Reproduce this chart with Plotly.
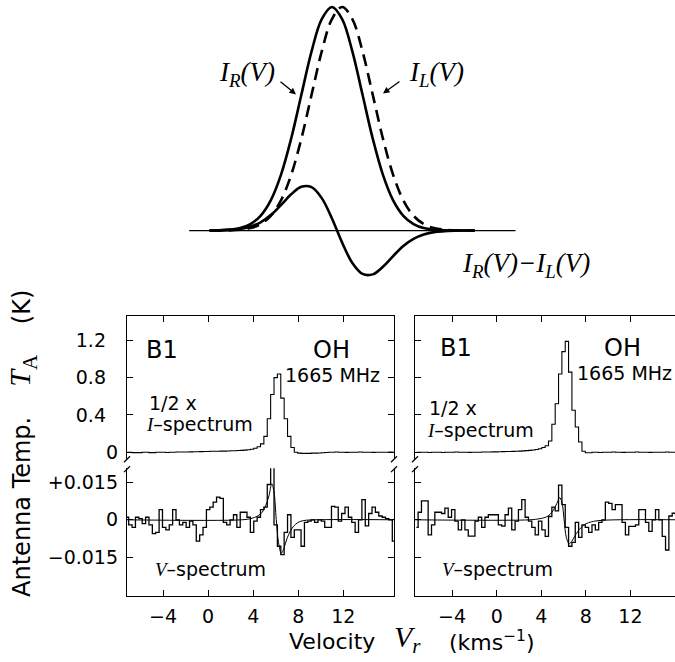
import plotly.graph_objects as go

W, H = 675, 662


def px(x):
    return x / W


def py(y):
    return 1 - y / H


# ---------------- schematic (top) ----------------
schem_k = [-12, -11, -10, -9, -8, -7, -6, -5, -4, -3, -2, -1, 0, 1, 2, 3, 4, 5, 6, 7,
           8, 9, 10, 11, 12, 13, 14]
schem_IR = [0.000, 0.001, 0.004, 0.011, 0.029, 0.066, 0.135, 0.249, 0.411, 0.607, 0.801,
            0.946, 1.000, 0.946, 0.801, 0.607, 0.411, 0.249, 0.135, 0.066, 0.029, 0.011,
            0.004, 0.001, 0.000, 0.000, 0.000]
schem_IL = [0.000, 0.000, 0.001, 0.004, 0.011, 0.029, 0.066, 0.135, 0.249, 0.411, 0.607,
            0.801, 0.946, 1.000, 0.946, 0.801, 0.607, 0.411, 0.249, 0.135, 0.066, 0.029,
            0.011, 0.004, 0.001, 0.000, 0.000]
schem_diff = [0.000, 0.001, 0.003, 0.007, 0.018, 0.037, 0.069, 0.114, 0.162, 0.196, 0.194,
              0.145, 0.054, -0.054, -0.145, -0.194, -0.196, -0.162, -0.114, -0.069, -0.037,
              -0.018, -0.007, -0.003, -0.001, 0.000, 0.000]
schem_base_k = [-14, 18]
schem_base_y = [0, 0]

# ---------------- spectra ----------------
chan_v = [-7.2, -6.9, -6.6, -6.3, -6.0, -5.7, -5.4, -5.1, -4.8, -4.5,
          -4.2, -3.9, -3.6, -3.3, -3.0, -2.7, -2.4, -2.1, -1.8, -1.5,
          -1.2, -0.9, -0.6, -0.3, 0.0, 0.3, 0.6, 0.9, 1.2, 1.5,
          1.8, 2.1, 2.4, 2.7, 3.0, 3.3, 3.6, 3.9, 4.2, 4.5,
          4.8, 5.1, 5.4, 5.7, 6.0, 6.3, 6.6, 6.9, 7.2, 7.5,
          7.8, 8.1, 8.4, 8.7, 9.0, 9.3, 9.6, 9.9, 10.2, 10.5,
          10.8, 11.1, 11.4, 11.7, 12.0, 12.3, 12.6, 12.9, 13.2, 13.5,
          13.8, 14.1, 14.4, 14.7, 15.0, 15.3, 15.6, 15.9, 16.2, 16.5]

I_left = [0.0, 0.0, -0.004, -0.004, -0.004, 0.0, 0.0, -0.004, -0.004, 0.0,
          0.0, 0.0, -0.003, 0.0, 0.0, 0.002, 0.002, 0.003, 0.003, 0.004,
          0.005, 0.005, 0.006, 0.008, 0.008, 0.010, 0.010, 0.011, 0.012, 0.012,
          0.013, 0.015, 0.016, 0.018, 0.020, 0.022, 0.026, 0.032, 0.042, 0.058,
          0.09, 0.17, 0.36, 0.62, 0.80, 0.84, 0.58, 0.36, 0.17, 0.05,
          0.0, -0.010, -0.012, -0.012, -0.012, -0.010, -0.010, -0.008, -0.005, -0.003,
          0.0, 0.0, 0.002, 0.0, 0.0, -0.002, 0.0, 0.0, 0.0, 0.002,
          0.0, 0.0, 0.0, -0.002, 0.0, 0.0, 0.0, 0.0, 0.002, 0.0]

I_right = [0.0, 0.0, 0.0, 0.0, -0.003, 0.0, 0.0, 0.0, -0.003, 0.0,
           0.0, 0.0, 0.002, 0.0, 0.0, 0.0, -0.002, 0.0, 0.0, 0.0,
           0.002, 0.003, 0.003, 0.004, 0.004, 0.005, 0.006, 0.007, 0.008, 0.009,
           0.010, 0.012, 0.014, 0.017, 0.020, 0.024, 0.030, 0.038, 0.050, 0.070,
           0.12, 0.30, 0.52, 0.84, 1.08, 1.19, 0.86, 0.45, 0.27, 0.11,
           0.01, -0.005, -0.005, 0.0, 0.0, -0.003, 0.0, 0.0, 0.0, 0.002,
           0.0, 0.0, -0.002, 0.0, 0.0, 0.0, 0.002, 0.0, 0.0, 0.0,
           -0.002, 0.0, 0.0, 0.0, 0.0, 0.002, 0.0, 0.0, 0.0, 0.0]

V_left = [0.001, -0.002, -0.003, 0.001, 0.0005, -0.0015, 0.001, -0.002, -0.0055, -0.005,
          0.004, -0.003, -0.004, -0.002, 0.004, 0.0, -0.002, -0.001, -0.003, -0.0005,
          -0.002, -0.0085, -0.006, -0.003, 0.004, 0.005, 0.007, 0.009, 0.0085, -0.001,
          -0.002, 0.0, 0.002, -0.003, 0.003, 0.003, 0.001, -0.005, -0.0005, 0.001,
          0.004, 0.005, 0.014, 0.021, -0.002, -0.0105, -0.0138, -0.005, 0.002, -0.007,
          -0.004, -0.004, -0.0105, -0.001, -0.0005, 0.0, -0.001, 0.0, -0.0005, -0.003,
          -0.003, 0.0053, 0.005, -0.0005, 0.0025, 0.005, 0.001, -0.001, -0.005, 0.0,
          0.008, -0.0024, 0.0025, 0.005, 0.003, 0.0015, 0.001, 0.0005, 0.0, -0.0085]

V_right = [-0.003, 0.003, 0.0075, 0.0075, -0.006, -0.002, 0.003, 0.003, 0.0025, 0.0046,
           0.001, 0.004, -0.0005, -0.004, 0.0, -0.004, -0.0065, -0.0065, -0.0005, 0.001,
           -0.003, 0.001, 0.002, 0.002, 0.002, -0.002, -0.0025, 0.002, 0.0046, -0.004,
           -0.0005, 0.004, 0.008, 0.001, -0.0005, -0.003, -0.006, -0.0005, -0.004, -0.0066,
           0.0013, 0.005, 0.0035, 0.0138, 0.006, -0.003, -0.0105, -0.009, -0.001, -0.007,
           -0.002, -0.003, -0.005, -0.002, -0.004, -0.001, 0.0, 0.007, 0.0065, 0.004,
           0.006, 0.006, -0.001, -0.006, -0.0026, -0.0026, -0.002, 0.004, 0.004, -0.001,
           -0.0046, 0.0, 0.004, 0.0, -0.0066, -0.012, 0.0015, 0.0026, 0.002, 0.0]

fit_v = [-7.4, 3.0, 3.8, 4.4, 4.8, 5.1, 5.4, 5.65, 5.85, 6.05, 6.25, 6.5, 6.75, 7.0,
         7.3, 7.6, 8.0, 8.5, 9.5, 16.6]
fit_left = [0.0, 0.0, 0.0005, 0.0015, 0.003, 0.0055, 0.0095, 0.0143, 0.011, 0.0,
            -0.009, -0.0133, -0.011, -0.0075, -0.0045, -0.0025, -0.001, -0.0003, 0.0, 0.0]
fit_right = [0.0, 0.0, 0.0004, 0.001, 0.0022, 0.004, 0.0065, 0.0088, 0.007, 0.0,
             -0.007, -0.0095, -0.0085, -0.0065, -0.0045, -0.003, -0.0016, -0.0008, -0.0002, 0.0]

x_ticks = [-4, 0, 4, 8, 12]
x_ticktext = ["\u22124", "0", "4", "8", "12"]
I_ticks = [0, 0.4, 0.8, 1.2]
I_ticktext = ["0", "0.4\u00a0\u00a0", "0.8\u00a0\u00a0", "1.2\u00a0\u00a0"]
V_ticks = [-0.015, 0, 0.015]
V_ticktext = ["\u22120.015", "0", "+0.015"]

assert len(chan_v) == len(I_left) == len(I_right) == len(V_left) == len(V_right) == 80

SANS = "DejaVu Sans"
SERIF = "Liberation Serif"
BLACK = "black"

fig = go.Figure()

# schematic
fig.add_trace(go.Scatter(x=schem_base_k, y=schem_base_y, mode="lines",
                         line=dict(color=BLACK, width=1.2), xaxis="x", yaxis="y"))
fig.add_trace(go.Scatter(x=schem_k, y=schem_IL, mode="lines", line_shape="spline",
                         line=dict(color=BLACK, width=2.6, dash="12px,7px"),
                         xaxis="x", yaxis="y"))
fig.add_trace(go.Scatter(x=schem_k, y=schem_IR, mode="lines", line_shape="spline",
                         line=dict(color=BLACK, width=2.6), xaxis="x", yaxis="y"))
fig.add_trace(go.Scatter(x=schem_k, y=schem_diff, mode="lines", line_shape="spline",
                         line=dict(color=BLACK, width=2.6), xaxis="x", yaxis="y"))

# spectra
for xa, ya, ys in [("x2", "y2", I_left), ("x4", "y4", I_right)]:
    fig.add_trace(go.Scatter(x=chan_v, y=ys, mode="lines", line_shape="hvh",
                             line=dict(color=BLACK, width=1.1), xaxis=xa, yaxis=ya))
for xa, ya, ys, fit in [("x3", "y3", V_left, fit_left), ("x5", "y5", V_right, fit_right)]:
    fig.add_trace(go.Scatter(x=fit_v, y=fit, mode="lines", line_shape="spline",
                             line=dict(color=BLACK, width=1.0), xaxis=xa, yaxis=ya))
    fig.add_trace(go.Scatter(x=chan_v, y=ys, mode="lines", line_shape="hvh",
                             line=dict(color=BLACK, width=1.3), xaxis=xa, yaxis=ya))

common = dict(showline=True, linecolor=BLACK, linewidth=1.3, ticks="inside", ticklen=6,
              tickwidth=1.2, tickcolor=BLACK, showgrid=False, zeroline=False,
              tickfont=dict(family=SANS, size=19, color=BLACK))

LX = [px(127), px(394)]
RX = [px(415), 1.0]
ID = [py(462), py(318)]
VD = [py(600), py(471)]
LR = [-7.2, 16.5]
RR = [-7.33, 16.0]
IR_ = [-0.075, 1.461]
VR_ = [-0.0304, 0.0205]

layout = dict(
    width=W, height=H, margin=dict(l=0, r=0, t=0, b=0),
    paper_bgcolor="white", plot_bgcolor="white", showlegend=False,
    xaxis=dict(domain=[px(180), px(540)], range=[-14.9, 20.4], visible=False,
               anchor="y", fixedrange=True),
    yaxis=dict(domain=[py(290), py(0)], range=[-0.258, 1.031], visible=False,
               anchor="x", fixedrange=True),
    xaxis2=dict(common, domain=LX, range=LR, anchor="y2", side="top",
                tickvals=x_ticks, showticklabels=False),
    yaxis2=dict(common, domain=ID, range=IR_, anchor="x2", mirror="ticks",
                tickvals=I_ticks, ticktext=I_ticktext, ticklabelstandoff=4),
    xaxis3=dict(common, domain=LX, range=LR, anchor="y3", side="bottom",
                tickvals=x_ticks, ticktext=x_ticktext, ticklabelstandoff=3),
    yaxis3=dict(common, domain=VD, range=VR_, anchor="x3", mirror="ticks",
                tickvals=V_ticks, ticktext=V_ticktext, ticklabelstandoff=4),
    xaxis4=dict(common, domain=RX, range=RR, anchor="y4", side="top",
                tickvals=x_ticks, showticklabels=False),
    yaxis4=dict(common, domain=ID, range=IR_, anchor="x4", mirror=False,
                tickvals=I_ticks, showticklabels=False),
    xaxis5=dict(common, domain=RX, range=RR, anchor="y5", side="bottom",
                tickvals=x_ticks, ticktext=x_ticktext, ticklabelstandoff=3),
    yaxis5=dict(common, domain=VD, range=VR_, anchor="x5", mirror=False,
                tickvals=V_ticks, showticklabels=False),
)
fig.update_layout(**layout)

ann = []


def text(x, y, s, size, family=SANS, xanchor="center", angle=0):
    ann.append(dict(x=px(x), y=py(y), xref="paper", yref="paper", text=s, showarrow=False,
                    xanchor=xanchor, yanchor="middle", textangle=angle,
                    font=dict(family=family, size=size, color=BLACK)))


def arrow(tipx, tipy, ax, ay):
    ann.append(dict(x=px(tipx), y=py(tipy), xref="paper", yref="paper", text="",
                    showarrow=True, ax=ax, ay=ay, arrowhead=2, arrowsize=1,
                    arrowwidth=1.3, arrowcolor=BLACK))


# schematic labels
IRV = "<i>I</i><sub><i>R</i></sub><i>(V)</i>"
ILV = "<i>I</i><sub><i>L</i></sub><i>(V)</i>"
text(247, 74, IRV, 27, SERIF)
text(436, 74, ILV, 27, SERIF)
text(526, 267, IRV + "<i>\u2212</i>" + ILV, 27, SERIF)
arrow(296, 95, -17, -14)
arrow(383, 94, 18, -13)

SER_I = '<span style="font-family:Liberation Serif"><i>I</i></span>'
SER_V = '<span style="font-family:Liberation Serif"><i>V</i></span>'

for (b1x, b1y, ohx, ohy, mhx, mhy, hx, hy, isx, isy, vsx, vsy) in [
        (144, 352, 311, 352, 283, 377, 147, 405, 144, 427, 153, 572),
        (438, 350, 602, 350, 575, 375, 427, 410, 425, 433, 440, 572)]:
    text(b1x, b1y, "B1", 24, xanchor="left")
    text(ohx, ohy, "OH", 24, xanchor="left")
    text(mhx, mhy, "1665 MHz", 19, xanchor="left")
    text(hx, hy, "1/2 x", 19, xanchor="left")
    text(isx, isy, SER_I + "\u2013spectrum", 19, xanchor="left")
    text(vsx, vsy, SER_V + "\u2013spectrum", 19, xanchor="left")

# axis titles
text(332, 645, "Velocity", 22)
text(407, 643, "<i>V</i><sub><i>r</i></sub>", 30, SERIF)
text(492, 645, "(kms<sup>\u22121</sup>)", 22)
text(22, 510, "Antenna Temp.", 24, angle=-90)
text(22, 372, "<i>T</i><sub>A</sub>", 30, SERIF, angle=-90)
text(22, 309, "(K)", 24, angle=-90)

fig.update_layout(annotations=ann)

# axis-break marks
shapes = []
for xb in [127, 394, 415]:
    for yb in [462, 472]:
        shapes.append(dict(type="line", xref="paper", yref="paper",
                           x0=px(xb - 3), y0=py(yb + 3), x1=px(xb + 3), y1=py(yb - 3),
                           line=dict(color=BLACK, width=1.3)))
fig.update_layout(shapes=shapes)

fig.write_html(
    "out.html",
    config={"displayModeBar": False},
    post_script="document.body.style.margin='0';document.body.style.overflow='hidden';",
)
